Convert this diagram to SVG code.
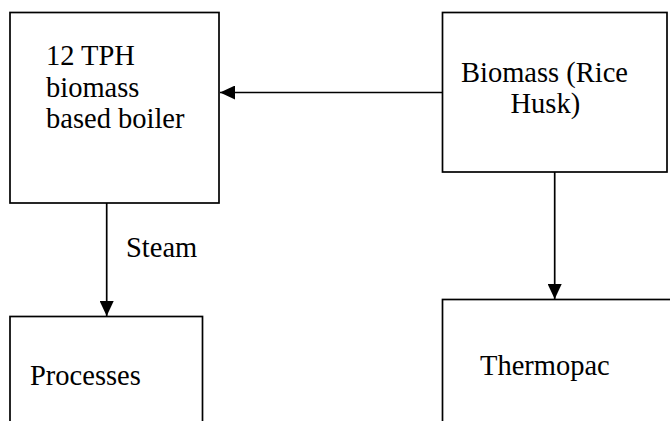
<svg xmlns="http://www.w3.org/2000/svg" width="670" height="421" viewBox="0 0 670 421">
<defs>
<marker id="ah" viewBox="0 0 15 14" refX="15" refY="7" markerWidth="15" markerHeight="14" markerUnits="userSpaceOnUse" orient="auto">
<path d="M0,0 L15,7 L0,14 Z" fill="#000"/>
</marker>
<style>
.box{fill:#fff;stroke:#000;stroke-width:1.7}
.t{font-family:"Liberation Serif","Times New Roman",serif;font-size:28.5px;fill:#000}
.c{fill:none;stroke:#000;stroke-width:1.7}
</style>
</defs>
<rect width="670" height="421" fill="#fff"/>
<g id="boiler">
<rect class="box" x="10" y="12.5" width="209" height="190.5"/>
<text class="t" x="46" y="65">12 TPH</text>
<text class="t" x="46" y="96.5">biomass</text>
<text class="t" x="46" y="128">based boiler</text>
</g>
<g id="biomass">
<rect class="box" x="442.5" y="12.5" width="224.5" height="159.5"/>
<text class="t" x="461" y="81.5">Biomass (Rice</text>
<text class="t" x="510.5" y="112.5">Husk)</text>
</g>
<g id="processes">
<rect class="box" x="10" y="316.5" width="192.5" height="120"/>
<text class="t" x="30" y="385">Processes</text>
</g>
<g id="thermopac">
<rect class="box" x="442.5" y="299.5" width="240" height="140"/>
<text class="t" x="480" y="375">Thermopac</text>
</g>
<g id="connectors">
<line class="c" x1="442.5" y1="92.5" x2="220" y2="92.5" marker-end="url(#ah)"/>
<line class="c" x1="106.7" y1="203" x2="106.7" y2="316" marker-end="url(#ah)"/>
<text class="t" x="126" y="257">Steam</text>
<line class="c" x1="554.7" y1="172" x2="554.7" y2="299" marker-end="url(#ah)"/>
</g>
</svg>
